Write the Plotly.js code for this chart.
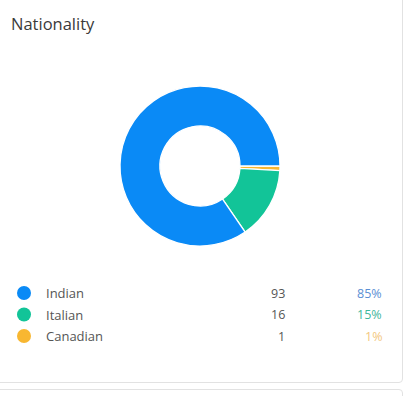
<!DOCTYPE html>
<html>
<head>
<meta charset="utf-8">
<script src="https://cdn.plot.ly/plotly-3.0.1.min.js"></script>
<style>
  html, body { margin: 0; padding: 0; background: #ffffff; width: 406px; height: 396px; overflow: hidden; }
  .card { position: absolute; left: -4px; top: -4px; width: 407px; height: 387px; border: 1px solid #e2e2e2; border-radius: 4px; background: #fff; box-sizing: border-box; }
  .card2 { position: absolute; left: -4px; top: 389px; width: 407px; height: 30px; border: 1px solid #e2e2e2; border-radius: 4px; background: #fff; box-sizing: border-box; }
  #chart { position: absolute; left: 0; top: 0; width: 406px; height: 396px; }
</style>
</head>
<body>
<div class="card"></div>
<div class="card2"></div>
<div id="chart"></div>
<script>
// ---- data ----
const categories = ["Indian", "Italian", "Canadian"];
const counts = [93, 16, 1];
const percentLabels = ["85%", "15%", "1%"];
const sliceColors = ["#0a8af6", "#12c498", "#f8b731"];
const percentColors = ["#5b8fd4", "#3fb79c", "#f3c77e"];
const chartTitle = "Nationality";

// ---- layout helpers ----
const W = 406, H = 396;
const FONT = "'Open Sans', 'Noto Sans', sans-serif";

// slices drawn clockwise from 3 o'clock in reverse order, so that the
// first category runs counter-clockwise from 3 o'clock as in the reference
const pie = {
  type: "pie",
  labels: categories.slice().reverse(),
  values: counts.slice().reverse(),
  sort: false,
  direction: "clockwise",
  rotation: 90,
  hole: 0.5,
  textinfo: "none",
  hoverinfo: "skip",
  marker: { colors: sliceColors.slice().reverse(), line: { color: "#ffffff", width: 1.3 } },
  domain: { x: [120 / W, 280 / W], y: [1 - 246 / H, 1 - 86 / H] },
  showlegend: false
};

// legend dots via a scatter on a hidden category axis
const dots = {
  type: "scatter",
  mode: "markers",
  x: categories.map(() => 24),
  y: categories,
  marker: { color: sliceColors, size: 14, line: { width: 0 } },
  hoverinfo: "skip",
  showlegend: false,
  cliponaxis: false
};

const annotations = [];
categories.forEach((c, i) => {
  annotations.push({ x: 44, y: c, xref: "x", yref: "y", text: c, showarrow: false,
    xanchor: "left", yanchor: "middle", font: { family: FONT, size: 13, color: "#555555" } });
  annotations.push({ x: 287, y: c, xref: "x", yref: "y", text: String(counts[i]), showarrow: false,
    xanchor: "right", yanchor: "middle", font: { family: FONT, size: 12.5, color: "#555555" } });
  annotations.push({ x: 384, y: c, xref: "x", yref: "y", text: percentLabels[i], showarrow: false,
    xanchor: "right", yanchor: "middle", font: { family: FONT, size: 12.5, color: percentColors[i] } });
});

// rows at pixel 293, 314.5, 336 -> 21.5 px per category
const rowStep = 21.5, firstRow = 293;
const yTop = -firstRow / rowStep;
const yBottom = yTop + H / rowStep;

const layout = {
  width: W, height: H,
  margin: { l: 0, r: 0, t: 0, b: 0, pad: 0 },
  paper_bgcolor: "rgba(0,0,0,0)",
  plot_bgcolor: "rgba(0,0,0,0)",
  title: { text: chartTitle, x: 11 / W, xanchor: "left", y: 1 - 24 / H, yanchor: "middle",
    font: { family: FONT, size: 16.5, color: "#3a3a3a" } },
  xaxis: { range: [0, W], visible: false, fixedrange: true },
  yaxis: { type: "category", categoryorder: "array", categoryarray: categories,
    range: [yBottom, yTop], visible: false, fixedrange: true },
  annotations: annotations,
  hovermode: false
};

Plotly.newPlot("chart", [pie, dots], layout, { displayModeBar: false, staticPlot: true });
</script>
</body>
</html>
